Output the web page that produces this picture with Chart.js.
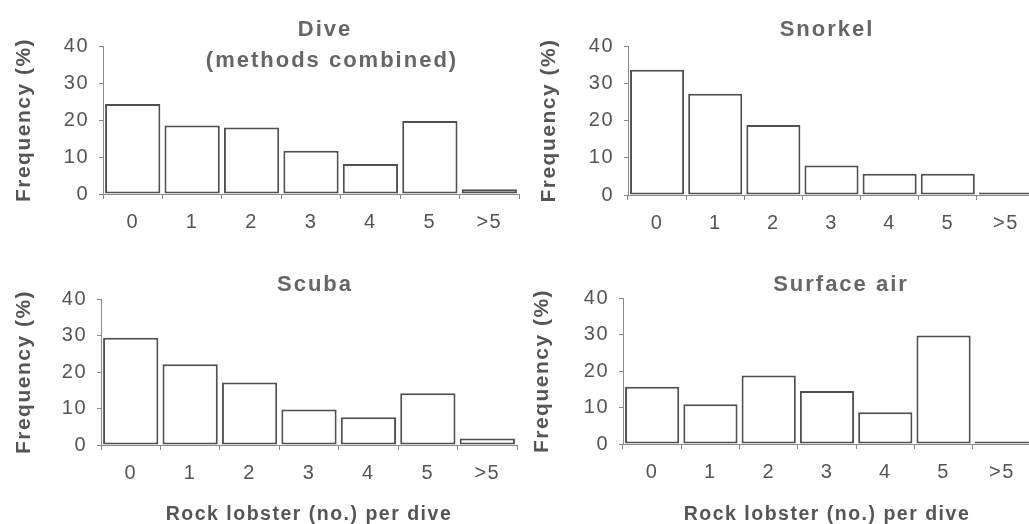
<!DOCTYPE html>
<html>
<head>
<meta charset="utf-8">
<script src="https://cdn.jsdelivr.net/npm/chart.js@4"></script>
<style>
  html, body { margin: 0; padding: 0; background: #fff; overflow: hidden; width: 1029px; height: 524px; }
  canvas { position: absolute; }
</style>
</head>
<body>
<canvas id="diveChart" width="520" height="260" style="left:0;top:0"></canvas>
<canvas id="snorkelChart" width="530" height="260" style="left:510px;top:0"></canvas>
<canvas id="scubaChart" width="520" height="264" style="left:0;top:260px"></canvas>
<canvas id="surfaceChart" width="530" height="264" style="left:510px;top:260px"></canvas>
<script>
const categories = ["0", "1", "2", "3", "4", "5", ">5"];
const yTicks = [0, 10, 20, 30, 40];

const dive = [24.3, 18.5, 18.0, 11.7, 8.1, 19.7, 1.3];
const snorkel = [33.6, 27.2, 18.8, 7.9, 5.7, 5.7, 0.7];
const scuba = [29.4, 22.1, 17.1, 9.7, 7.6, 14.2, 1.8];
const surfaceAir = [15.7, 10.9, 18.8, 14.5, 8.7, 29.7, 0.7];

const yTitle = "Frequency (%)";
const xTitle = "Rock lobster (no.) per dive";

const textColor = "#555555";
const titleColor = "#666666";
const barColor = "#505050";
const axisColor = "#8a8a8a";
const fontFamily = "'Liberation Sans', Arial, Helvetica, sans-serif";

Chart.defaults.font.family = fontFamily;
Chart.defaults.color = textColor;

// panel layout: y-axis width, x-axis height, padding, title lines
const panels = [
  {
    id: "diveChart", data: dive, showX: false,
    pad: { left: 0, top: 46, right: 1, bottom: 0 }, yWidth: 103, xHeight: 66,
    titles: [{ text: "Dive", x: 325, y: 30 }, { text: "(methods combined)", x: 332, y: 61 }],
  },
  {
    id: "snorkelChart", data: snorkel, showX: false,
    pad: { left: 15, top: 46, right: 5, bottom: 0 }, yWidth: 103, xHeight: 65,
    titles: [{ text: "Snorkel", x: 317, y: 30 }],
  },
  {
    id: "scubaChart", data: scuba, showX: true,
    pad: { left: 0, top: 39, right: 3, bottom: 0 }, yWidth: 101, xHeight: 79,
    titles: [{ text: "Scuba", x: 315, y: 25 }],
  },
  {
    id: "surfaceChart", data: surfaceAir, showX: true,
    pad: { left: 8, top: 38, right: 9, bottom: 0 }, yWidth: 105, xHeight: 80,
    titles: [{ text: "Surface air", x: 331, y: 25 }],
  },
];

const spacingPlugin = {
  id: "spacing",
  beforeDraw(chart) {
    chart.ctx.letterSpacing = "1.5px";
  },
};

const panelTitlePlugin = {
  id: "panelTitle",
  afterDraw(chart, args, opts) {
    const ctx = chart.ctx;
    ctx.save();
    ctx.letterSpacing = "2px";
    ctx.font = `bold 22px ${fontFamily}`;
    ctx.fillStyle = titleColor;
    ctx.textAlign = "center";
    ctx.textBaseline = "middle";
    for (const line of opts.lines || []) {
      ctx.fillText(line.text, line.x, line.y);
    }
    ctx.restore();
  },
};

function makeChart(panel) {
  return new Chart(document.getElementById(panel.id), {
    type: "bar",
    data: {
      labels: categories,
      datasets: [{
        data: panel.data,
        backgroundColor: "#ffffff",
        borderColor: barColor,
        borderWidth: 2,
        borderSkipped: false,
        barPercentage: 0.93,
        categoryPercentage: 1,
      }],
    },
    plugins: [spacingPlugin, panelTitlePlugin],
    options: {
      responsive: false,
      animation: false,
      layout: { padding: panel.pad },
      plugins: {
        legend: { display: false },
        tooltip: { enabled: false },
        panelTitle: { lines: panel.titles },
      },
      scales: {
        x: {
          grid: { display: true, drawOnChartArea: false, tickLength: 5, color: axisColor },
          border: { display: true, color: axisColor, width: 1 },
          ticks: { color: textColor, font: { size: 20 }, padding: 11, autoSkip: false, maxRotation: 0 },
          title: {
            display: panel.showX, text: xTitle, color: textColor,
            font: { size: 19.5, weight: "bold", lineHeight: 1 }, padding: { top: 0, bottom: 0 },
          },
          afterFit(scale) { scale.height = panel.xHeight; },
        },
        y: {
          min: 0,
          max: 40,
          afterBuildTicks(scale) { scale.ticks = yTicks.map((v) => ({ value: v })); },
          grid: { display: true, drawOnChartArea: false, tickLength: 4, color: axisColor },
          border: { display: true, color: axisColor, width: 1 },
          ticks: { color: textColor, font: { size: 20 }, padding: 10 },
          title: {
            display: true, text: yTitle, color: textColor,
            font: { size: 21, weight: "bold", lineHeight: 1.2 }, padding: { top: 12, bottom: 0 },
          },
          afterFit(scale) { scale.width = panel.yWidth; },
        },
      },
    },
  });
}

panels.forEach(makeChart);
</script>
</body>
</html>
